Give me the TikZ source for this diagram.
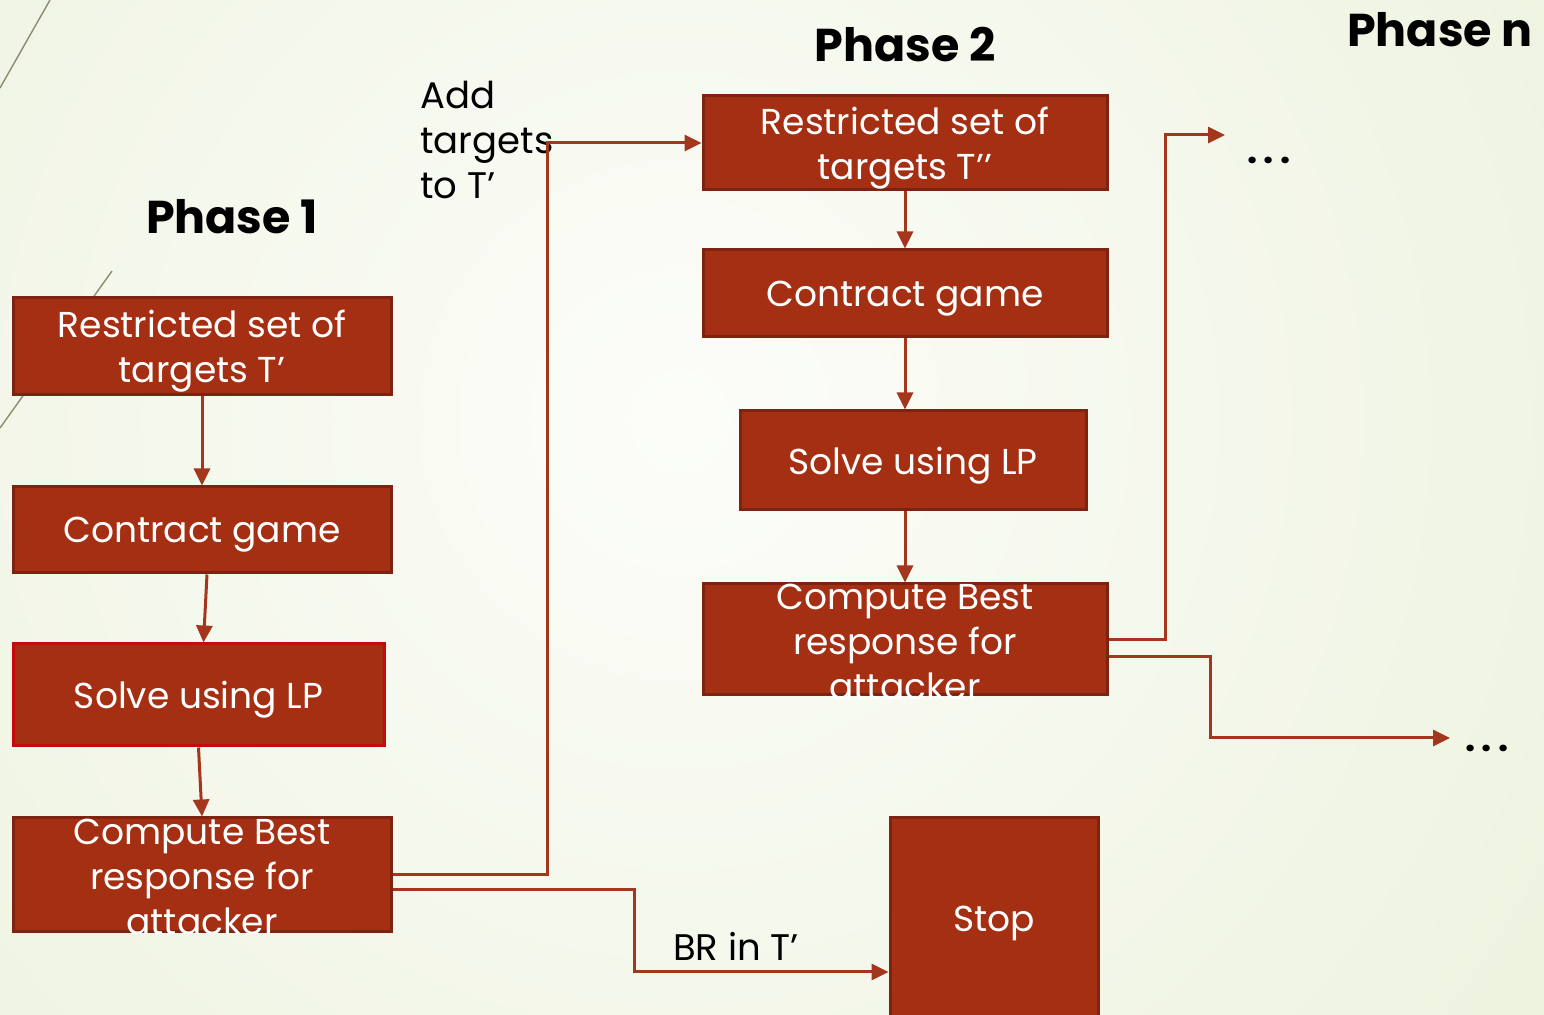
\documentclass[tikz,border=0pt]{standalone}
\usepackage{fontspec}
\setmainfont{Poppins}
\usetikzlibrary{arrows.meta,fit}
\definecolor{boxfill}{HTML}{A52F12}
\definecolor{boxline}{HTML}{7D2311}
\definecolor{lpline}{HTML}{C80A0A}
\definecolor{connc}{HTML}{A4361E}
\definecolor{bgin}{HTML}{FCFDF9}
\definecolor{bgout}{HTML}{DCE6C0}
\definecolor{decoc}{HTML}{8C8C70}
\begin{document}
\begin{tikzpicture}[x=0.5pt,y=-0.5pt,
  box/.style={draw=boxline, line width=1.5pt, fill=boxfill, inner sep=0pt},
  btext/.style={text=white, font=\fontsize{18}{22.5}\selectfont, align=center, inner sep=0pt, yshift=-2.5pt},
  plain/.style={text=black, font=\fontsize{18.5}{22.5}\selectfont, inner sep=0pt},
  dotmark/.style={text=black, font=\fontsize{18}{22}\selectfont\bfseries, inner sep=0pt, anchor=base},
  phase/.style={text=black, font=\fontsize{23}{27}\selectfont\bfseries, inner sep=0pt},
  conn/.style={draw=connc, line width=1.5pt, -{Triangle[length=8.5pt,width=8pt]}},
  deco/.style={draw=decoc, line width=0.7pt}]

% background
\useasboundingbox (0,0) rectangle (1544,1015);
\begin{scope}
  \clip (0,0) rectangle (1544,1015);
  \shade[inner color=bgin, outer color=bgout] (680,420) circle (2300);
\end{scope}

% theme ornaments
\draw[deco] (50,0) -- (0,88);
\draw[deco] (112,271) -- (0,428);

% phase titles
\node[phase] (ph1) at (232,217) {Phase 1};
\node[phase] (ph2) at (905,45) {Phase 2};
\node[phase] (phn) at (1440,30) {Phase n};

% phase 1 boxes
\node[box, fit={(13,298) (391,395)}] (b1) {};
\node[box, fit={(13,487) (391,573)}] (b2) {};
\node[box, draw=lpline, fit={(13,644) (384,746)}] (b3) {};
\node[box, fit={(13,818) (391,932)}] (b4) {};
\node[btext] (b1t) at (b1.center) {Restricted set of\\targets T’};
\node[btext] (b2t) at (b2.center) {Contract game};
\node[btext] (b3t) at (b3.center) {Solve using LP};
\node[btext, yshift=1.5pt] (b4t) at (b4.center) {Compute Best\\response for\\attacker};

% phase 2 boxes
\node[box, fit={(703,96) (1107,190)}] (c1) {};
\node[box, fit={(703,250) (1107,337)}] (c2) {};
\node[box, fit={(740,411) (1086,510)}] (c3) {};
\node[box, fit={(703,584) (1107,695)}] (c4) {};
\node[btext] (c1t) at (c1.center) {Restricted set of\\targets T’’};
\node[btext] (c2t) at (c2.center) {Contract game};
\node[btext] (c3t) at (c3.center) {Solve using LP};
\node[btext, yshift=1.5pt] (c4t) at (c4.center) {Compute Best\\response for\\attacker};

% stop box
\node[box, fit={(890,818) (1098,1018)}] (stop) {};
\node[btext] (stopt) at (stop.center) {Stop};

% labels and continuation marks
\node[plain, align=left, anchor=west] (addt) at (420,140) {Add\\targets\\to T’};
\node[plain] (br) at (736,946) {BR in T’};
\node[dotmark] (dots1) at (1269,164) {.\hspace{3pt}.\hspace{3pt}.};
\node[dotmark] (dots2) at (1487,752) {.\hspace{3pt}.\hspace{3pt}.};

% helper corners
\coordinate (j1) at (547,143);
\coordinate (j2) at (634,972);
\coordinate (k1) at (1165,135);
\coordinate (e1) at (1225,135);
\coordinate (k2) at (1210,738);
\coordinate (e2) at (1450,738);

% phase 1 flow
\draw[conn] (b1.south) -- (b2.north);
\draw[conn] ([xshift=2.5pt]b2.south) -- ([xshift=2.5pt]b3.north);
\draw[conn] (b3.south) -- (b4.north);

% phase 2 flow
\draw[conn] (c1.south) -- (c2.north);
\draw[conn] (c2.south) -- (c2.south |- c3.north);
\draw[conn] (c4.north |- c3.south) -- (c4.north);

% transitions
\draw[conn] (b4.east) -| (j1) -- (c1.west);
\draw[conn] ([yshift=-7.5pt]b4.east) -| (j2) -- (j2 -| stop.west);
\draw[conn] (c4.east) -| (k1) -- (e1);
\draw[conn] ([yshift=-8.5pt]c4.east) -| (k2) -- (e2);
\end{tikzpicture}
\end{document}
